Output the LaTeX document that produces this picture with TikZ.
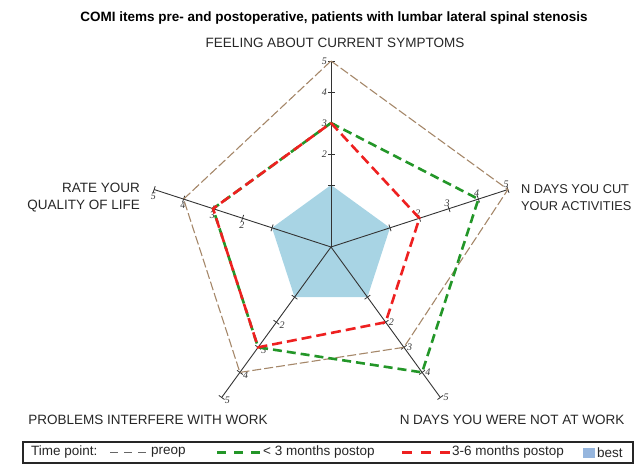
\documentclass[tikz,border=0pt]{standalone}
\usepackage{fontspec}
\setmainfont{Liberation Serif}
\setsansfont{Liberation Sans}
\usetikzlibrary{calc,positioning}

\definecolor{preopcol}{RGB}{165,135,105}
\definecolor{earlycol}{RGB}{35,150,40}
\definecolor{latecol}{RGB}{238,32,32}
\definecolor{bestcol}{RGB}{168,212,228}
\definecolor{keycol}{RGB}{150,182,222}

\tikzstyle{axisline} = [draw=black!80, line width=0.9pt]
\tikzstyle{preop} = [draw=preopcol, line width=1.1pt, dash pattern=on 9pt off 3pt]
\tikzstyle{early} = [draw=earlycol, line width=2.6pt, dash pattern=on 9pt off 5pt]
\tikzstyle{late} = [draw=latecol, line width=2.6pt, dash pattern=on 10pt off 5pt]
\tikzstyle{best} = [fill=bestcol, draw=none]
\tikzstyle{caption} = [font=\sffamily\fontsize{13.5}{17}\selectfont, text=black!85, inner sep=0pt]
\tikzstyle{ticklabel} = [font=\itshape\fontsize{10}{10}\selectfont, text=black!80, inner sep=1pt]

\begin{document}
\begin{tikzpicture}[x=1pt, y=1pt]
  \useasboundingbox (0,0) rectangle (636,465);
  \coordinate (c) at (331,218);

  % axis points, value v sits at 31(v+1)
  \foreach \a/\n in {90/top, 18/ru, -54/rb, -126/lb, 162/lu} {
    \foreach \v in {1,...,5}
      \coordinate (\n\v) at ($(c)+(\a:{31*(\v+1)})$);
  }

  % best
  \path [best] (top1) -- (ru1) -- (rb1) -- (lb1) -- (lu1) -- cycle;

  % axes and ticks
  \foreach \n in {top, ru, rb, lb, lu} {
    \draw [axisline] (c) -- (\n5);
    \foreach \v in {1,...,5}
      \draw [axisline, line width=0.8pt] ($(\n\v)!3.5pt!90:(c)$) -- ($(\n\v)!3.5pt!-90:(c)$);
  }
  \foreach \v in {2,...,5} {
    \node (ttop\v) [ticklabel, left=3pt of top\v] {\v};
    \node (tru\v) [ticklabel, above left=1pt and -2pt of ru\v] {\v};
    \node (trb\v) [ticklabel, right=2pt of rb\v] {\v};
    \node (tlb\v) [ticklabel, below right=-2pt and 2pt of lb\v] {\v};
    \node (tlu\v) [ticklabel, below left=2pt and -3pt of lu\v] {\v};
  }

  % time points
  \draw [preop] (top5) -- (ru5) -- (rb3) -- (lb4) -- (lu4) -- cycle;
  \draw [early] (top3) -- (ru4) -- (rb4) -- (lb3) -- (lu3) -- cycle;
  \draw [late] (top3) -- (ru2) -- (rb2) -- (lb3) -- (lu3) -- cycle;

  % texts
  \node (title) [caption, font=\sffamily\bfseries\fontsize{13.5}{17}\selectfont, text=black] at (334,447) {COMI items pre- and postoperative, patients with lumbar lateral spinal stenosis};
  \node (feeling) [caption] at (335,422) {FEELING ABOUT CURRENT SYMPTOMS};
  \node (cut) [caption, font=\sffamily\fontsize{12.8}{17}\selectfont, anchor=west, align=left] at (521,267) {N DAYS YOU CUT\\YOUR ACTIVITIES};
  \node (rate) [caption, anchor=east, align=right] at (140,267) {RATE YOUR\\QUALITY OF LIFE};
  \node (problems) [caption] at (148,45) {PROBLEMS INTERFERE WITH WORK};
  \node (notwork) [caption] at (512,45) {N DAYS YOU WERE NOT AT WORK};

  % legend
  \draw [black!85, line width=1.2pt] (23,2) rectangle (633,23);
  \node (ltime) [caption, anchor=west] at (31,12.5) {Time point:};
  \coordinate (lp1) at (110,12.5);
  \coordinate (lp2) at (149,12.5);
  \draw [black!60, line width=1pt, dash pattern=on 8pt off 6pt] (lp1) -- (lp2);
  \node (lpreop) [caption, anchor=west] at (151,12.5) {preop};
  \coordinate (le1) at (217,12.5);
  \coordinate (le2) at (262,12.5);
  \draw [earlycol, line width=2.4pt, dash pattern=on 9pt off 8pt] (le1) -- (le2);
  \node (learly) [caption, anchor=west] at (263,12.5) {< 3 months postop};
  \coordinate (ll1) at (402,12.5);
  \coordinate (ll2) at (450,12.5);
  \draw [latecol, line width=2.4pt, dash pattern=on 10pt off 9pt] (ll1) -- (ll2);
  \node (llate) [caption, anchor=west] at (452,12.5) {3-6 months postop};
  \node (lbox) [fill=keycol, minimum width=12pt, minimum height=10pt, inner sep=0pt] at (589,12) {};
  \node (lbest) [caption, anchor=west] at (597,12.5) {best};
\end{tikzpicture}
\end{document}
